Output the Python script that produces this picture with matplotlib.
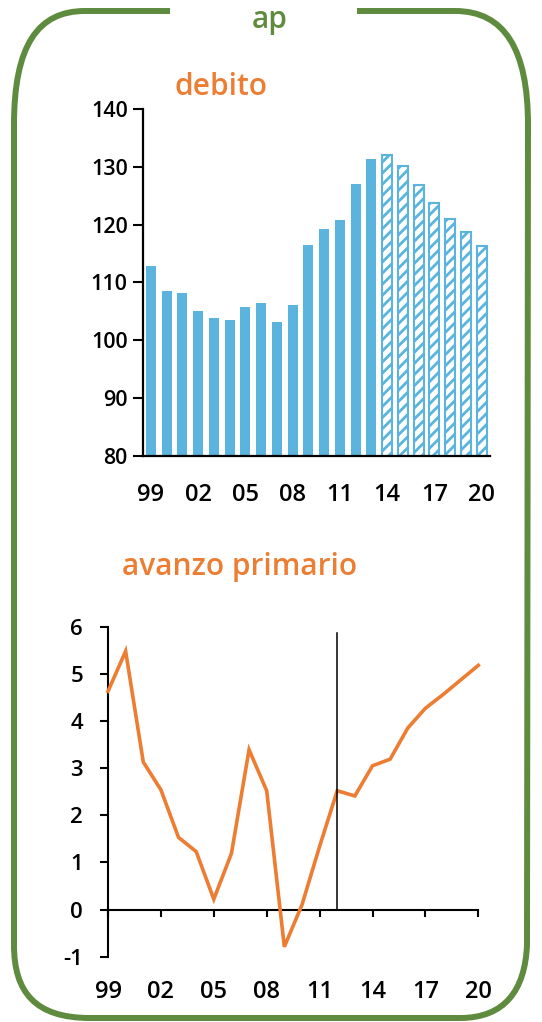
import matplotlib
matplotlib.use("Agg")
import matplotlib.pyplot as plt
from matplotlib.path import Path
from matplotlib.patches import PathPatch
import numpy as np

plt.rcParams['font.family'] = ['Open Sans', 'DejaVu Sans']
plt.rcParams['font.weight'] = 'semibold'
plt.rcParams['hatch.linewidth'] = 2.0

# ---- data ----
years = list(range(1999, 2021))
debt = [112.9, 108.5, 108.2, 105.1, 103.9, 103.5, 105.7, 106.4, 103.2, 106.1,
        116.4, 119.3, 120.8, 127.0, 131.4, 132.0, 130.1, 126.9, 123.8, 121.0,
        118.8, 116.3]
forecast_start = 2014
primary = [4.63, 5.48, 3.13, 2.54, 1.53, 1.23, 0.22, 1.19, 3.39, 2.52,
           -0.79, 0.10, 1.34, 2.52, 2.41, 3.05, 3.19, 3.85, 4.27, 4.56,
           4.87, 5.18]
tick_years = [1999, 2002, 2005, 2008, 2011, 2014, 2017, 2020]
tick_labels = ['99', '02', '05', '08', '11', '14', '17', '20']
debt_yticks = [80, 90, 100, 110, 120, 130, 140]
primary_yticks = [-1, 0, 1, 2, 3, 4, 5, 6]
vline_year = 2012
vline_top = 5.87

title_main = 'ap'
title_debt = 'debito'
title_primary = 'avanzo primario'

GREEN = '#5e8b3e'
BLUE = '#5bb4dd'
ORANGE = '#ec7d32'

W, H = 542, 1022
fig = plt.figure(figsize=(W / 100, H / 100), dpi=100)

# ---- frame overlay ----
ov = fig.add_axes([0, 0, 1, 1])
ov.set_xlim(0, W)
ov.set_ylim(H, 0)
ov.axis('off')
verts = [(170, 11), (85, 11),
         (38, 11), (14, 45), (14, 125),
         (14, 945),
         (14, 992), (35, 1018), (90, 1018),
         (460, 1018),
         (505, 1018), (525, 990), (527, 945),
         (528, 125),
         (528, 50), (505, 11), (455, 11),
         (357, 11)]
codes = [Path.MOVETO, Path.LINETO,
         Path.CURVE4, Path.CURVE4, Path.CURVE4,
         Path.LINETO,
         Path.CURVE4, Path.CURVE4, Path.CURVE4,
         Path.LINETO,
         Path.CURVE4, Path.CURVE4, Path.CURVE4,
         Path.LINETO,
         Path.CURVE4, Path.CURVE4, Path.CURVE4,
         Path.LINETO]
ov.add_patch(PathPatch(Path(verts, codes), fill=False, edgecolor=GREEN,
                       linewidth=4.3, capstyle='butt'))

fig.text(270 / W, 1 - 20 / H, title_main, color=GREEN, fontsize=21.5,
         ha='center', va='center', fontweight='semibold')
fig.text(221 / W, 1 - 87 / H, title_debt, color=ORANGE, fontsize=21.5,
         ha='center', va='center', fontweight='semibold')
fig.text(240 / W, 1 - 567 / H, title_primary, color=ORANGE, fontsize=21.5,
         ha='center', va='center', fontweight='semibold')

# ---- top: debt bars ----
ax1 = fig.add_axes([143 / W, 1 - 456 / H, 346.6 / W, 347 / H])
x = np.arange(len(years))
for xi, yr, v in zip(x, years, debt):
    if yr < forecast_start:
        ax1.bar(xi, v - 80, bottom=80, width=0.63, color=BLUE, linewidth=0)
    else:
        ax1.bar(xi, v - 79.6, bottom=79.6, width=0.63, facecolor='white',
                edgecolor=BLUE, hatch='///', linewidth=1.5)
ax1.set_xlim(-0.5, 21.5)
ax1.set_ylim(80, 140)
ax1.set_yticks(debt_yticks)
ax1.set_yticklabels([str(t) for t in debt_yticks])
ax1.set_xticks([years.index(t) for t in tick_years])
ax1.set_xticklabels(tick_labels)
for s in ['top', 'right']:
    ax1.spines[s].set_visible(False)
for s in ['left', 'bottom']:
    ax1.spines[s].set_linewidth(1.6)
    ax1.spines[s].set_zorder(5)
ax1.tick_params(axis='y', direction='out', length=7, width=1.5, pad=4,
                labelsize=15.5)
ax1.tick_params(axis='x', length=0, pad=19.5, labelsize=17)
ax1.patch.set_alpha(0)

# ---- bottom: primary balance line ----
ax2 = fig.add_axes([108 / W, 1 - 956.7 / H, 370.3 / W, 330 / H])
ax2.plot(years, primary, color=ORANGE, linewidth=2.6, solid_joinstyle='miter',
         clip_on=False, zorder=3)
ax2.plot([vline_year, vline_year], [0, vline_top], color='black', linewidth=1.1,
         zorder=4)
ax2.set_xlim(1999, 2020)
ax2.set_ylim(-1, 6)
ax2.spines['bottom'].set_position(('data', 0))
for s in ['top', 'right']:
    ax2.spines[s].set_visible(False)
for s in ['left', 'bottom']:
    ax2.spines[s].set_linewidth(1.5)
ax2.set_yticks(primary_yticks)
ax2.set_yticklabels([str(t) for t in primary_yticks])
ax2.tick_params(axis='y', direction='out', length=6, width=1.5, pad=12,
                labelsize=16)
ax2.set_xticks(tick_years)
ax2.set_xticklabels([])
ax2.tick_params(axis='x', direction='out', length=5, width=1.5)
for t, lab in zip(tick_years, tick_labels):
    ax2.text(t, -0.107, lab, transform=ax2.get_xaxis_transform(),
             ha='center', va='center', fontsize=17)
ax2.patch.set_alpha(0)

fig.savefig('out.png', dpi=100)
